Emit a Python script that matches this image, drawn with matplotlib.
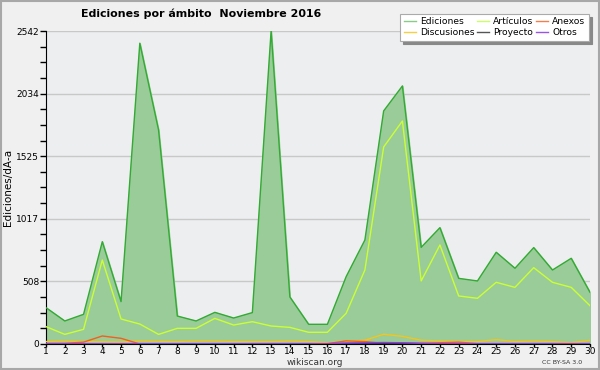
import matplotlib
matplotlib.use("Agg")
import matplotlib.pyplot as plt
from matplotlib.patches import Rectangle
from matplotlib.ticker import FixedLocator

days = list(range(1, 31))
ediciones = [295, 187, 241, 831, 344, 2443, 1738, 227, 187, 257, 211, 255, 2542, 382, 160,
             160, 547, 845, 1893, 2096, 785, 945, 533, 512, 745, 615, 783, 601, 696, 420]
articulos = [141, 78, 119, 682, 203, 162, 78, 127, 127, 208, 154, 181, 146, 135, 95,
             95, 249, 601, 1600, 1811, 512, 804, 390, 371, 501, 460, 620, 501, 460, 311]
anexos = [5, 5, 15, 65, 46, 0, 0, 0, 0, 0, 0, 3, 3, 3, 3,
          3, 25, 20, 5, 3, 5, 10, 15, 3, 3, 3, 3, 3, 3, 3]
discusiones = [20, 25, 20, 18, 15, 25, 22, 20, 25, 25, 20, 20, 20, 25, 20,
               10, 20, 30, 79, 62, 30, 25, 20, 20, 35, 20, 25, 20, 10, 30]
proyecto = [2, 2, 2, 2, 2, 2, 2, 2, 2, 2, 2, 2, 2, 2, 2,
            2, 3, 3, 5, 5, 3, 2, 2, 2, 2, 2, 2, 2, 2, 2]
otros = [3, 3, 3, 3, 3, 3, 3, 3, 3, 3, 3, 3, 3, 3, 3,
         3, 8, 10, 12, 10, 5, 3, 3, 3, 3, 3, 3, 3, 3, 3]
yticks = [0, 508, 1017, 1525, 2034, 2542]

fig = plt.figure(figsize=(6, 3.7), dpi=100)
fig.patch.set_facecolor('#f0f0f0')
fig.add_artist(Rectangle((0.001, 0.002), 0.997, 0.995, transform=fig.transFigure,
                         fill=False, edgecolor='#a8a8a8', linewidth=1.5))
ax = fig.add_axes([0.0767, 0.0703, 0.9066, 0.8459])
ax.set_facecolor('#edeef0')

ax.fill_between(days, ediciones, 0, color='#99cc99', zorder=2)
ax.plot(days, ediciones, color='#33aa33', lw=1.0, zorder=3)
ax.plot(days, articulos, color='#ccff33', lw=1.0, zorder=4)
ax.plot(days, discusiones, color='#f5c518', lw=1.0, zorder=5)
ax.plot(days, anexos, color='#f06020', lw=1.0, zorder=6)
ax.plot(days, proyecto, color='#333333', lw=1.0, zorder=6)
ax.plot(days, otros, color='#8a3ee0', lw=1.0, zorder=7)

ax.set_xlim(1, 30)
ax.set_ylim(0, 2542)
ax.set_xticks(days)
ax.set_xticklabels([str(d) for d in days])
ax.yaxis.set_major_locator(FixedLocator(yticks))
ax.set_yticklabels([str(v) for v in yticks])
minor = []
for a, b in zip(yticks[:-1], yticks[1:]):
    minor += [a + (b - a) * k / 4 for k in (1, 2, 3)]
ax.yaxis.set_minor_locator(FixedLocator(minor))
ax.grid(axis='y', color='#c8c8c8', lw=1.0, zorder=1)
ax.set_axisbelow(True)
for s in ['top', 'right']:
    ax.spines[s].set_visible(False)
ax.spines['left'].set_color('black')
ax.spines['bottom'].set_color('black')
ax.tick_params(axis='y', labelsize=6.5, length=4, width=1, pad=1, colors='black')
ax.tick_params(axis='y', which='minor', length=4, width=1)
ax.tick_params(axis='x', labelsize=6.5, length=2, width=1, pad=0.5, colors='black')
ax.set_ylabel('Ediciones/dÃ\u2011a', fontsize=7.5, labelpad=2)

fig.text(0.335, 0.963, 'Ediciones por ámbito  Noviembre 2016', ha='center', va='center',
         fontsize=7.9, fontweight='bold')
fig.text(0.525, 0.02, 'wikiscan.org', ha='center', va='center', fontsize=6.5, color='#333333')
fig.text(0.97, 0.02, 'CC BY-SA 3.0', ha='right', va='center', fontsize=4.5, color='#333333')

names = ['Ediciones', 'Discusiones', 'Artículos', 'Proyecto', 'Anexos', 'Otros']
colors = ['#88cc88', '#f5d040', '#ccff66', '#555555', '#f08050', '#9a55e8']
handles = [plt.Line2D([], [], color=c, lw=1) for c in colors]
leg = fig.legend(handles, names, ncol=3, loc='upper right', bbox_to_anchor=(0.989, 0.975),
                 fontsize=6.6, frameon=True, fancybox=False, shadow={'color': '#888888', 'alpha': 1},
                 handlelength=1.3, handletextpad=0.45, columnspacing=0.3, labelspacing=0.2,
                 borderpad=0.4, edgecolor='#aaaaaa', framealpha=1)
leg.get_frame().set_linewidth(0.8)

fig.savefig('out.png', dpi=100, facecolor=fig.get_facecolor())
